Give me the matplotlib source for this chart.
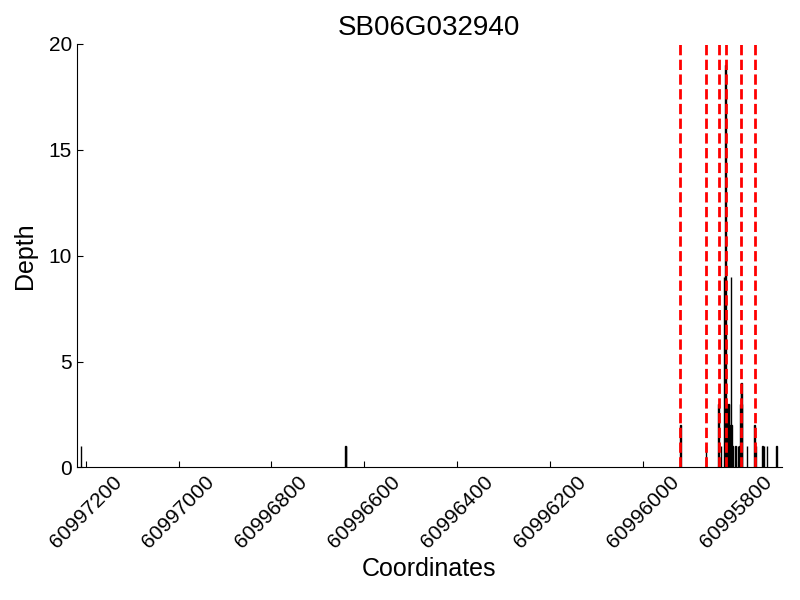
import matplotlib
matplotlib.use('Agg')
import matplotlib.pyplot as plt

plt.rcParams['font.family'] = ['Liberation Sans', 'DejaVu Sans']

gene = 'SB06G032940'

# read depth per position (only non-zero positions)
positions = [60997210, 60996641, 60996640, 60995920, 60995865, 60995838,
             60995833, 60995826, 60995824, 60995823, 60995821, 60995820,
             60995819, 60995817, 60995816, 60995815, 60995813, 60995812,
             60995811, 60995810, 60995808, 60995801, 60995796,
             60995793, 60995791, 60995789, 60995788, 60995787, 60995776,
             60995760, 60995757, 60995743, 60995740, 60995733, 60995713]
depths = [1, 1, 1, 2, 1, 3,
          1, 9, 3, 19, 3, 3,
          3, 3, 3, 3, 2, 2,
          9, 2, 1, 1, 1,
          1, 3, 4, 4, 3, 1,
          2, 1, 1, 1, 1, 1]

# exon boundaries
boundaries = [60995920, 60995865, 60995837, 60995821, 60995789, 60995760]

xlim = (60997219, 60995702)
xticks = [60997200, 60997000, 60996800, 60996600, 60996400, 60996200,
          60996000, 60995800]

fig = plt.figure(figsize=(8, 6), dpi=100)
ax = fig.add_axes([0.096, 0.221, 0.881, 0.706])

ax.bar(positions, depths, width=1, color='k', edgecolor='k', linewidth=1)
for b in boundaries:
    ax.axvline(b, color='r', linestyle='--', linewidth=2)

ax.set_xlim(*xlim)
ax.set_ylim(0, 20)
ax.set_xticks(xticks)
ax.set_xticklabels([str(t) for t in xticks], rotation=45, ha='center',
                   fontsize=15)
ax.set_yticks([0, 5, 10, 15, 20])
ax.tick_params(axis='y', labelsize=15)
ax.tick_params(direction='in', length=4.5, width=0.8, top=False, right=False)
ax.spines['top'].set_visible(False)
ax.spines['right'].set_visible(False)

ax.set_title(gene, fontsize=20)
ax.set_xlabel('Coordinates', fontsize=18)
ax.set_ylabel('Depth', fontsize=18, labelpad=8)

plt.savefig('out.png', dpi=100)
